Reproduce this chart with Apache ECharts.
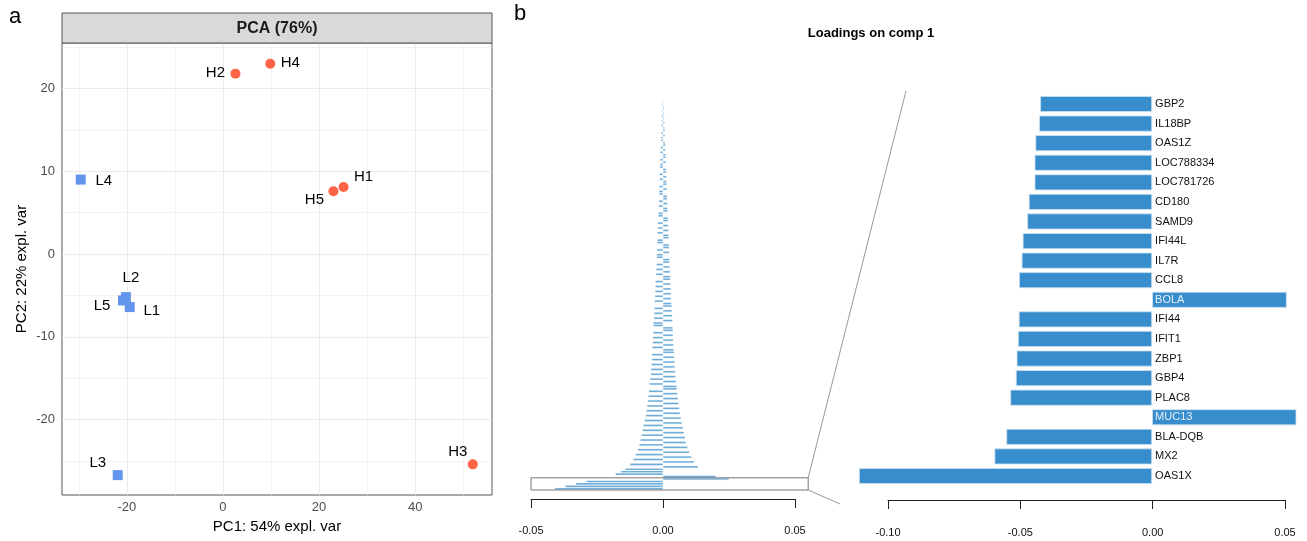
<!DOCTYPE html>
<html>
<head>
<meta charset="utf-8">
<script src="https://cdn.jsdelivr.net/npm/echarts@6/dist/echarts.min.js"></script>
<style>
html, body { margin: 0; padding: 0; background: #fff; }
#main { width: 1307px; height: 541px; }
</style>
</head>
<body>
<div id="main"></div>
<script>
// ---- panel a : PCA scores ----
const sampleNames = ['H1', 'H2', 'H3', 'H4', 'H5', 'L1', 'L2', 'L3', 'L4', 'L5'];
const pc1 = [25.1, 2.6, 52.0, 9.85, 23.0, -19.4, -20.2, -21.9, -29.6, -20.8];
const pc2 = [8.1, 21.8, -25.4, 23.0, 7.6, -6.4, -5.2, -26.7, 9.0, -5.6];
const pcaXTicks = [-20, 0, 20, 40];
const pcaYTicks = [-20, -10, 0, 10, 20];
const pcaXMajor = [-20, 0, 20, 40];
const pcaXMinor = [-30, -10, 10, 30, 50];
const pcaYMajor = [-20, -10, 0, 10, 20];
const pcaYMinor = [-25, -15, -5, 5, 15, 25];

// ---- panel b : loadings on comp 1 (all genes, smallest |loading| on top) ----
const allLoadings = [
  0.0002, -0.0003, 0.0003, 0.0004, -0.0004, 0.0004, -0.0005, 0.0005, -0.0005, 0.0006,
  -0.0006, 0.0006, 0.0007, -0.0007, 0.0007, -0.0008, -0.0008, 0.0008, 0.0009, -0.0009,
  0.0009, -0.0010, 0.0010, 0.0010, -0.0011, 0.0011, -0.0011, -0.0012, 0.0012, 0.0012,
  -0.0013, 0.0013, -0.0013, 0.0014, 0.0014, -0.0014, 0.0015, -0.0015, -0.0015, 0.0016,
  0.0016, -0.0016, 0.0017, -0.0017, 0.0017, 0.0018, -0.0018, -0.0018, 0.0019, 0.0019,
  -0.0020, 0.0020, -0.0020, 0.0021, -0.0021, 0.0021, 0.0022, -0.0022, -0.0022, 0.0023,
  0.0023, -0.0023, 0.0024, -0.0024, -0.0024, 0.0025, 0.0025, -0.0025, 0.0026, -0.0026,
  0.0027, -0.0027, 0.0028, 0.0028, -0.0029, 0.0029, -0.0029, 0.0030, -0.0030, 0.0031,
  -0.0031, 0.0031, -0.0032, 0.0032, 0.0033, -0.0033, 0.0034, -0.0034, 0.0035, -0.0035,
  0.0036, -0.0036, -0.0037, 0.0037, 0.0038, -0.0038, 0.0038, -0.0039, 0.0039, -0.0040,
  0.0040, -0.0041, 0.0041, 0.0042, -0.0042, 0.0043, -0.0043, 0.0044, -0.0044, 0.0045,
  -0.0046, 0.0047, -0.0047, 0.0048, -0.0049, 0.0050, -0.0051, 0.0052, 0.0053, -0.0054,
  0.0055, -0.0056, 0.0057, -0.0058, 0.0059, -0.0060, 0.0062, -0.0063, 0.0065, -0.0066,
  0.0068, -0.0070, 0.0072, -0.0074, 0.0076, -0.0078, 0.0080, -0.0082, 0.0084, -0.0086,
  0.0087, -0.0090, 0.0093, -0.0096, 0.0100, -0.0104, 0.0108, -0.0113, 0.0118, -0.0125,
  0.0133, -0.0143, -0.0160, -0.0180, 0.0200,
  0.0250, -0.0290, -0.0330, -0.0370, -0.0410
];
const zoomRows = 5; // last rows framed by the box

// top 20 genes (zoomed)
const topGenes = ['GBP2', 'IL18BP', 'OAS1Z', 'LOC788334', 'LOC781726', 'CD180', 'SAMD9', 'IFI44L', 'IL7R', 'CCL8',
  'BOLA', 'IFI44', 'IFIT1', 'ZBP1', 'GBP4', 'PLAC8', 'MUC13', 'BLA-DQB', 'MX2', 'OAS1X'];
const topLoadings = [-0.0424, -0.0428, -0.0442, -0.0445, -0.0445, -0.0467, -0.0473, -0.0490, -0.0494, -0.0504,
  0.0510, -0.0505, -0.0508, -0.0513, -0.0516, -0.0537, 0.0560, -0.0552, -0.0597, -0.1110];

const FONT = 'Liberation Sans, Arial, sans-serif';
const hiColor = '#FF6347';
const loColor = '#6495ED';
const barColor = '#388ECC';

// label nudges for the sample names (like ggrepel placed them)
const labelNudge = {
  H1: [20, -10], H2: [-20, -1], H3: [-15, -13], H4: [20, -1], H5: [-19, 9],
  L1: [22, 4], L2: [5, -19], L3: [-20, -12], L4: [23, 1], L5: [-21, 5]
};

function pointsOf(prefix) {
  const out = [];
  sampleNames.forEach(function (n, i) {
    if (n[0] === prefix) {
      out.push({ name: n, value: [pc1[i], pc2[i]], label: { offset: labelNudge[n] } });
    }
  });
  return out;
}

const gridLines = [];
pcaXMajor.forEach(v => gridLines.push({ xAxis: v, lineStyle: { width: 1 } }));
pcaXMinor.forEach(v => gridLines.push({ xAxis: v, lineStyle: { width: 0.6 } }));
pcaYMajor.forEach(v => gridLines.push({ yAxis: v, lineStyle: { width: 1 } }));
pcaYMinor.forEach(v => gridLines.push({ yAxis: v, lineStyle: { width: 0.6 } }));

const rowIds = allLoadings.map((v, i) => 'g' + (i + 1));

const topData = topLoadings.map(function (v) {
  return {
    value: v,
    label: v < 0
      ? { position: 'right', color: '#111' }
      : { position: 'insideLeft', color: '#e6f0fa' }
  };
});

const chart = echarts.init(document.getElementById('main'));

const option = {
  animation: false,
  backgroundColor: '#fff',
  textStyle: { fontFamily: FONT },
  grid: [
    { left: 62, top: 43, right: 815, bottom: 46, show: true, borderColor: '#555', borderWidth: 1, backgroundColor: '#fff' },
    { left: 531, right: 512, top: 100, bottom: 51 },
    { left: 859, right: 11, top: 94.2, bottom: 55.2 },
    { left: 888, right: 22, top: 94, bottom: 41 }
  ],
  xAxis: [
    {
      gridIndex: 0, type: 'value', min: -33.5, max: 56,
      axisLine: { show: false },
      axisTick: { show: true, length: 3, customValues: pcaXTicks, lineStyle: { color: '#333' } },
      axisLabel: { customValues: pcaXTicks, color: '#4d4d4d', fontSize: 13, margin: 6, fontFamily: FONT },
      splitLine: { show: false },
      name: 'PC1: 54% expl. var', nameLocation: 'middle', nameGap: 23,
      nameTextStyle: { fontSize: 15, color: '#000', fontFamily: FONT }
    },
    {
      gridIndex: 1, type: 'value', min: -0.05, max: 0.05, interval: 0.05, offset: 9,
      axisLine: { show: true, lineStyle: { color: '#222' } },
      axisTick: { show: true, length: 9, lineStyle: { color: '#222' } },
      axisLabel: { color: '#111', fontSize: 11, margin: 26, fontFamily: FONT, formatter: v => v.toFixed(2) },
      splitLine: { show: false }
    },
    { gridIndex: 2, type: 'value', min: -0.111, max: 0.0545, show: false },
    {
      gridIndex: 3, type: 'value', min: -0.1, max: 0.05, interval: 0.05,
      axisLine: { show: true, lineStyle: { color: '#222' } },
      axisTick: { show: true, length: 9, lineStyle: { color: '#222' } },
      axisLabel: { color: '#111', fontSize: 11, margin: 27, fontFamily: FONT, formatter: v => v.toFixed(2) },
      splitLine: { show: false }
    }
  ],
  yAxis: [
    {
      gridIndex: 0, type: 'value', min: -29.1, max: 25.5,
      axisLine: { show: false },
      axisTick: { show: true, length: 3, customValues: pcaYTicks, lineStyle: { color: '#333' } },
      axisLabel: { customValues: pcaYTicks, color: '#4d4d4d', fontSize: 13, margin: 7, fontFamily: FONT },
      splitLine: { show: false },
      name: 'PC2: 22% expl. var', nameLocation: 'middle', nameGap: 33,
      nameTextStyle: { fontSize: 15, color: '#000', fontFamily: FONT }
    },
    { gridIndex: 1, type: 'category', data: rowIds, inverse: true, show: false },
    { gridIndex: 2, type: 'category', data: topGenes, inverse: true, show: false },
    { gridIndex: 3, type: 'value', show: false }
  ],
  series: [
    {
      type: 'scatter', xAxisIndex: 0, yAxisIndex: 0,
      symbol: 'circle', symbolSize: 10,
      itemStyle: { color: hiColor, opacity: 1 },
      label: { show: true, position: 'inside', formatter: '{b}', fontSize: 15, color: '#000', fontFamily: FONT },
      data: pointsOf('H'),
      markLine: {
        silent: true, symbol: 'none', z: 1,
        label: { show: false },
        lineStyle: { color: '#ebebeb', type: 'solid' },
        data: gridLines
      }
    },
    {
      type: 'scatter', xAxisIndex: 0, yAxisIndex: 0,
      symbol: 'rect', symbolSize: 10,
      itemStyle: { color: loColor, opacity: 1 },
      label: { show: true, position: 'inside', formatter: '{b}', fontSize: 15, color: '#000', fontFamily: FONT },
      data: pointsOf('L')
    },
    {
      type: 'bar', xAxisIndex: 1, yAxisIndex: 1,
      barWidth: '85%',
      itemStyle: { color: barColor, opacity: 0.8, borderColor: '#e3eef8', borderWidth: 0.4 },
      data: allLoadings
    },
    {
      type: 'bar', xAxisIndex: 2, yAxisIndex: 2,
      barWidth: 16,
      itemStyle: { color: barColor, borderColor: '#cfe2f3', borderWidth: 0.8 },
      label: { show: true, formatter: '{b}', fontSize: 11, distance: 3, fontFamily: FONT },
      data: topData
    }
  ]
};

chart.setOption(option);

// zoom box and connectors, placed with the chart's own scales
const r0 = chart.convertToPixel({ xAxisIndex: 1, yAxisIndex: 1 }, [0, 0]);
const r1 = chart.convertToPixel({ xAxisIndex: 1, yAxisIndex: 1 }, [0, 1]);
const band = r1[1] - r0[1];
const first = allLoadings.length - zoomRows;
const boxTop = chart.convertToPixel({ xAxisIndex: 1, yAxisIndex: 1 }, [0, first])[1] - band / 2;
const boxBot = chart.convertToPixel({ xAxisIndex: 1, yAxisIndex: 1 }, [0, allLoadings.length - 1])[1] + band / 2;
const boxL = chart.convertToPixel({ xAxisIndex: 1, yAxisIndex: 1 }, [-0.05, 0])[0];
const boxR = chart.convertToPixel({ xAxisIndex: 1, yAxisIndex: 1 }, [0.055, 0])[0];

chart.setOption({
  graphic: [
    { type: 'text', left: 9, top: 6, style: { text: 'a', font: '22px ' + FONT, fill: '#000' } },
    { type: 'text', left: 514, top: 3, style: { text: 'b', font: '22px ' + FONT, fill: '#000' } },
    {
      type: 'rect', shape: { x: 62, y: 13, width: 430, height: 30 },
      style: { fill: '#d9d9d9', stroke: '#555', lineWidth: 1 }, z: 10
    },
    {
      type: 'text', x: 277, y: 29, z: 11,
      style: { text: 'PCA (76%)', font: 'bold 16px ' + FONT, fill: '#1a1a1a', align: 'center', verticalAlign: 'middle' }
    },
    {
      type: 'text', x: 871, y: 33, z: 11,
      style: { text: 'Loadings on comp 1', font: 'bold 13px ' + FONT, fill: '#000', align: 'center', verticalAlign: 'middle' }
    },
    {
      type: 'rect', z: 11, shape: { x: boxL, y: boxTop, width: boxR - boxL, height: boxBot - boxTop },
      style: { fill: 'none', stroke: '#777', lineWidth: 1 }
    },
    {
      type: 'line', z: 11, shape: { x1: boxR, y1: boxTop, x2: 906, y2: 91 },
      style: { stroke: '#999', lineWidth: 1 }
    },
    {
      type: 'line', z: 11, shape: { x1: boxR, y1: boxBot, x2: 840, y2: 504 },
      style: { stroke: '#999', lineWidth: 1 }
    }
  ]
});
</script>
</body>
</html>
